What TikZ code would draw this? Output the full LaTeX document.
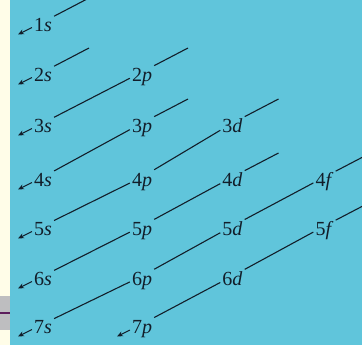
\documentclass[tikz,border=0pt]{standalone}
\usepackage{fontspec}
\setmainfont{Liberation Serif}
\usetikzlibrary{arrows.meta,calc}
\definecolor{skyfill}{RGB}{96,197,219}
\definecolor{creamside}{RGB}{255,253,232}
\definecolor{greyband}{RGB}{190,190,192}
\definecolor{plumline}{RGB}{92,30,92}
\definecolor{inkdark}{RGB}{18,30,42}

\begin{document}
\begin{tikzpicture}[x=1pt,y=-1pt,
  orb/.style={text=inkdark,font=\fontsize{20}{22}\selectfont,inner xsep=2pt,inner ysep=1pt,text height=20pt,text depth=1pt},
  diag/.style={inkdark,line width=1.1pt},
  tail/.style={diag,-{Stealth[length=6pt,width=5pt]}}
]
\useasboundingbox (0,0) rectangle (362,345);
\fill[creamside] (0,0) rectangle (10,345);
\fill[skyfill] (10,0) rectangle (362,345);
\fill[greyband] (0,296) rectangle (10,330);
\draw[plumline,line width=2.5pt] (0,313) -- (10,313);

% orbital labels
\foreach \sh/\sb/\px/\py in {1/s/43/22,
    2/s/43/72,2/p/142/72,
    3/s/43/123,3/p/142/123,3/d/232.5/123,
    4/s/43/177,4/p/142/177,4/d/232.5/177,4/f/324.5/177,
    5/s/43/226,5/p/142/226,5/d/232.5/226,5/f/324.5/226,
    6/s/43/276,6/p/142/276,6/d/232.5/276,
    7/s/43/324,7/p/142/324}
  \node[orb] (\sh\sb) at (\px,\py) {\sh\textit{\sb}};

% diagonals between labels
\foreach \a/\b in {2p/3s,3p/4s,3d/4p,4p/5s,4d/5p,5p/6s,4f/5d,5d/6p,6p/7s,5f/6d,6d/7p}
  \draw[diag] (\a) -- (\b);

% free upper ends
\foreach \a in {1s,2s,2p,3p,3d,4d,4f,5f}{
  \coordinate (\a-up) at ($(\a)+(46,-24)$);
  \draw[diag] (\a) -- (\a-up);
}

% arrow ends
\foreach \a in {1s,2s,3s,4s,5s,6s,7s,7p}{
  \coordinate (\a-dn) at ($(\a)+(-25,12.5)$);
  \draw[tail] (\a) -- (\a-dn);
}
\end{tikzpicture}
\end{document}
